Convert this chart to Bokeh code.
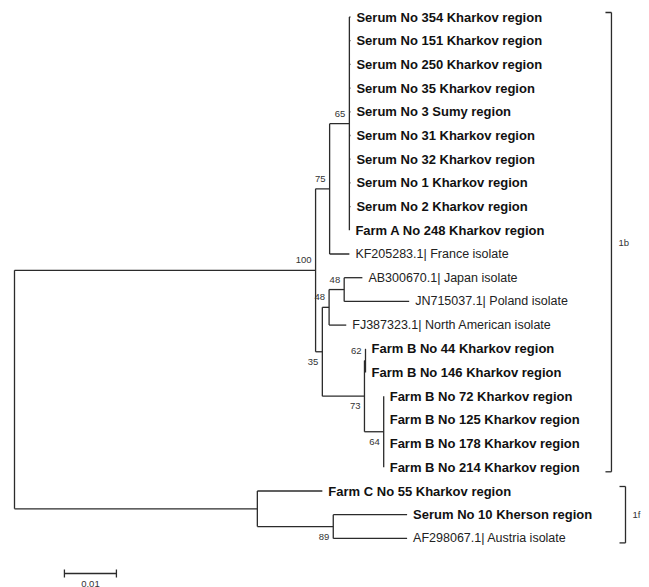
from bokeh.plotting import figure
from bokeh.models import Range1d
from bokeh.core.properties import value
from bokeh.embed import file_html
from bokeh.resources import INLINE

# ---- data ----
leaf_labels = [
    "Serum No 354 Kharkov region", "Serum No 151 Kharkov region", "Serum No 250 Kharkov region",
    "Serum No 35 Kharkov region", "Serum No 3 Sumy region", "Serum No 31 Kharkov region",
    "Serum No 32 Kharkov region", "Serum No 1 Kharkov region", "Serum No 2 Kharkov region",
    "Farm A No 248 Kharkov region", "KF205283.1| France isolate", "AB300670.1| Japan isolate",
    "JN715037.1| Poland isolate", "FJ387323.1| North American isolate",
    "Farm B No 44 Kharkov region", "Farm B No 146 Kharkov region", "Farm B No 72 Kharkov region",
    "Farm B No 125 Kharkov region", "Farm B No 178 Kharkov region", "Farm B No 214 Kharkov region",
    "Farm C No 55 Kharkov region", "Serum No 10 Kherson region", "AF298067.1| Austria isolate",
]
leaf_bold = [True] * 10 + [False] * 4 + [True] * 8 + [False]
leaf_parents = ["n65"] * 10 + ["n75", "n48a", "n48a", "n48b", "n62", "n62",
                               "n64", "n64", "n64", "n64", "nf", "n89", "n89"]
leaf_lengths = [0.0002] * 9 + [0.0, 0.0038, 0.0035, 0.0125, 0.0033, 0.0, 0.0,
                                0.0, 0.0, 0.0, 0.0, 0.0125, 0.0142, 0.0142]

node_names = ["root", "n100", "n75", "n65", "n35", "n48b", "n48a", "n73", "n62", "n64", "nf", "n89"]
node_parents = [None, "root", "n100", "n75", "n100", "n35", "n48b", "n35", "n73", "n73", "root", "nf"]
node_lengths = [0.0, 0.0579, 0.0027, 0.0038, 0.0013, 0.0013, 0.0029, 0.0081, 0.0002, 0.0037, 0.0467, 0.0146]
node_support = [None, 100, 75, 65, 35, 48, 48, 73, 62, 64, None, 89]

clade_names = ["1b", "1f"]
clade_first_row = [0, 20]
clade_last_row = [19, 22]
clade_x = [0.1148, 0.1175]

scale_length = 0.01
scale_label = "0.01"
scale_start = 0.0096

# ---- layout computation ----
ROW_PX = 23.7
ROW0_PX = 16.5
ROOT_PX = 14.0
PX_PER_UNIT = 5200.0
W, H = 649, 587

xpos = {}
parent_of = dict(zip(node_names, node_parents))
len_of = dict(zip(node_names, node_lengths))


def node_x(n):
    if n in xpos:
        return xpos[n]
    par = parent_of[n]
    v = 0.0 if par is None else node_x(par) + len_of[n]
    xpos[n] = v
    return v


for n in node_names:
    node_x(n)

ypos = {}
children = {n: [] for n in node_names}
for i, (par, L) in enumerate(zip(leaf_parents, leaf_lengths)):
    key = "leaf%d" % i
    ypos[key] = float(i)
    xpos[key] = xpos[par] + L
    children[par].append(key)
    parent_of[key] = par
for n, par in zip(node_names, node_parents):
    if par is not None:
        children[par].append(n)


def node_y(n):
    if n in ypos:
        return ypos[n]
    ys = [node_y(c) for c in children[n]]
    v = (min(ys) + max(ys)) / 2.0
    ypos[n] = v
    return v


for n in node_names:
    node_y(n)

x0, x1, y0, y1 = [], [], [], []
for n, kids in children.items():
    if kids:
        ys = [ypos[c] for c in kids]
        x0.append(xpos[n]); x1.append(xpos[n]); y0.append(min(ys)); y1.append(max(ys))
    for c in kids:
        x0.append(xpos[n]); x1.append(xpos[c]); y0.append(ypos[c]); y1.append(ypos[c])

p = figure(width=W, height=H, output_backend="svg", toolbar_location=None,
           x_range=Range1d(-ROOT_PX / PX_PER_UNIT, (W - ROOT_PX) / PX_PER_UNIT),
           y_range=Range1d((H - ROW0_PX) / ROW_PX, -ROW0_PX / ROW_PX),
           min_border=0)
p.axis.visible = False
p.grid.visible = False
p.outline_line_color = None
p.background_fill_color = "white"

LINE = "#2b2b2b"
p.segment(x0=x0, y0=y0, x1=x1, y1=y1, line_color=LINE, line_width=1.3)

FONT = value("Liberation Sans")
idx_b = [i for i in range(len(leaf_labels)) if leaf_bold[i]]
idx_r = [i for i in range(len(leaf_labels)) if not leaf_bold[i]]
p.text(x=[xpos["leaf%d" % i] for i in idx_b], y=[ypos["leaf%d" % i] for i in idx_b],
       text=[leaf_labels[i] for i in idx_b], x_offset=6, text_baseline="middle", text_align="left",
       text_font=FONT, text_font_size="13px", text_font_style="bold", text_color="#111111")
p.text(x=[xpos["leaf%d" % i] for i in idx_r], y=[ypos["leaf%d" % i] for i in idx_r],
       text=[leaf_labels[i] for i in idx_r], x_offset=6, text_baseline="middle", text_align="left",
       text_font=FONT, text_font_size="12.5px", text_color="#222222")

# bootstrap values
sx, sy, st, so = [], [], [], []
for n, s in zip(node_names, node_support):
    if s is None:
        continue
    par = parent_of[n]
    sx.append(xpos[n]); sy.append(ypos[n]); st.append(str(s))
    so.append(-10 if ypos[n] < ypos[par] else 10)
p.text(x=sx, y=sy, text=st, x_offset=-4, y_offset=so, text_baseline="middle", text_align="right",
       text_font=FONT, text_font_size="9.5px", text_color="#333333")

# clade brackets
pad_px = 4.5
for name, a, b, cx in zip(clade_names, clade_first_row, clade_last_row, clade_x):
    ya = a - pad_px / ROW_PX
    yb = b + pad_px / ROW_PX
    tick = 6 / PX_PER_UNIT
    p.segment(x0=[cx, cx - tick, cx - tick], y0=[ya, ya, yb], x1=[cx, cx, cx], y1=[yb, ya, yb],
              line_color=LINE, line_width=1.3)
    p.text(x=[cx], y=[(a + b) / 2], text=[name], x_offset=7, text_baseline="middle",
           text_font=FONT, text_font_size="9.5px", text_color="#333333")

# scale bar
sb_y = (573 - ROW0_PX) / ROW_PX
tk = 4 / ROW_PX
p.segment(x0=[scale_start, scale_start, scale_start + scale_length],
          y0=[sb_y, sb_y - tk, sb_y - tk],
          x1=[scale_start + scale_length, scale_start, scale_start + scale_length],
          y1=[sb_y, sb_y + tk, sb_y + tk], line_color=LINE, line_width=1.3)
p.text(x=[scale_start + scale_length / 2], y=[(586 - ROW0_PX) / ROW_PX], text=[scale_label],
       text_align="center", text_baseline="bottom", text_font=FONT, text_font_size="9.5px",
       text_color="#333333")

open("out.html", "w").write(file_html(p, INLINE))
